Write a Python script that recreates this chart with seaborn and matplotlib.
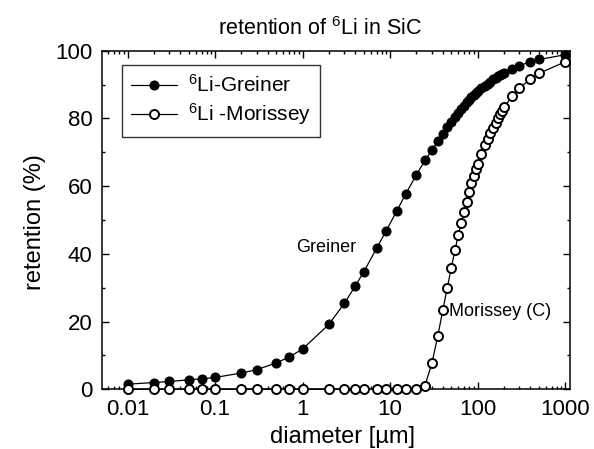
import numpy as np
import pandas as pd
import matplotlib
matplotlib.use("Agg")
import matplotlib.pyplot as plt
import seaborn as sns
from matplotlib.ticker import LogLocator, FuncFormatter, MultipleLocator, NullFormatter

# diameter grid [um] shared by both curves
diameter = [0.01, 0.02, 0.03, 0.05, 0.07, 0.1, 0.2, 0.3, 0.5, 0.7,
            1, 2, 3, 4, 5, 7, 9, 12, 15, 20,
            25, 30, 35, 40, 45, 50, 55, 60, 65, 70,
            75, 80, 85, 90, 95, 100, 110, 120, 130, 140,
            150, 160, 170, 180, 190, 200, 250, 300, 400, 500, 1000]

# retention (%)
greiner = [1.5, 2.0, 2.3, 2.8, 3.1, 3.5, 4.8, 5.8, 7.8, 9.5,
           11.9, 19.2, 25.4, 30.5, 34.7, 41.6, 46.8, 52.8, 57.6, 63.4,
           67.6, 70.6, 73.2, 75.5, 77.4, 79.0, 80.4, 81.7, 82.8, 83.8,
           84.7, 85.5, 86.2, 86.9, 87.5, 88.0, 88.9, 89.6, 90.3, 90.9,
           91.5, 92.0, 92.4, 92.8, 93.1, 93.4, 94.6, 95.5, 96.8, 97.4, 98.8]

morissey = [0, 0, 0, 0, 0, 0, 0, 0, 0, 0,
            0, 0, 0, 0, 0, 0, 0, 0, 0, 0,
            1.1, 7.7, 15.7, 23.4, 30.0, 35.9, 41.0, 45.5, 49.2, 52.5,
            55.4, 58.2, 60.8, 63.0, 65.0, 66.6, 69.5, 72.0, 74.0, 75.7,
            77.3, 78.7, 80.0, 81.2, 82.3, 83.3, 86.7, 88.9, 91.6, 93.3, 96.7]

x_ticks = [0.01, 0.1, 1, 10, 100, 1000]
y_ticks = [0, 20, 40, 60, 80, 100]

df = pd.DataFrame({"diameter": diameter, "greiner": greiner, "morissey": morissey})

sns.set_style("ticks")
plt.rcParams['font.family'] = ['Liberation Sans', 'DejaVu Sans']
plt.rcParams['mathtext.default'] = 'regular'
plt.rcParams['text.color'] = 'black'
plt.rcParams['axes.labelcolor'] = 'black'

fig = plt.figure(figsize=(5.94, 4.49), dpi=100)
ax = fig.add_axes([0.1717, 0.133, 0.7887, 0.7541])

sns.lineplot(data=df, x="diameter", y="greiner", ax=ax, color="black", lw=0.9,
             marker="o", markersize=6.5, markerfacecolor="black", markeredgecolor="black",
             estimator=None, label=r"$^{6}$Li-Greiner", clip_on=False, zorder=3)
sns.lineplot(data=df, x="diameter", y="morissey", ax=ax, color="black", lw=0.9,
             marker="o", markersize=6.5, markerfacecolor="white", markeredgecolor="black",
             markeredgewidth=1.4, estimator=None, label=r"$^{6}$Li -Morissey",
             clip_on=False, zorder=4)

ax.set_xscale("log")
ax.set_xlim(0.0051, 1150)
ax.set_ylim(0, 100)
ax.set_xticks(x_ticks)
ax.xaxis.set_major_formatter(FuncFormatter(lambda v, p: f"{v:g}"))
ax.xaxis.set_minor_locator(LogLocator(base=10, subs=np.arange(2, 10), numticks=20))
ax.xaxis.set_minor_formatter(NullFormatter())
ax.set_yticks(y_ticks)
ax.yaxis.set_minor_locator(MultipleLocator(10))

ax.tick_params(which="both", direction="in", top=True, right=True, width=1,
               colors="black", labelcolor="black")
ax.tick_params(which="major", length=5, labelsize=16, pad=7)
ax.tick_params(which="minor", length=2.5)
for s in ax.spines.values():
    s.set_linewidth(1.1)
    s.set_color("black")

ax.set_xlabel("diameter [µm]", fontsize=17)
ax.set_ylabel("retention (%)", fontsize=17)
ax.xaxis.set_label_coords(0.514, -0.141)
ax.xaxis.label.set_va("center")
ax.yaxis.set_label_coords(-0.143, 0.494)
ax.yaxis.label.set_va("center")

fig.text(320 / 594, 1 - 35 / 449, r"retention of $^{6}$Li in SiC", fontsize=15.5,
         ha="center", va="baseline")

ax.text(1.88, 42, "Greiner", fontsize=13, ha="center", va="center")
ax.text(47.1, 23.1, "Morissey (C)", fontsize=13, ha="left", va="center")

leg = ax.legend(loc="upper left", bbox_to_anchor=(0.0427, 0.958), borderaxespad=0,
                fontsize=15, frameon=True, fancybox=False, handlelength=2.2,
                handletextpad=0.5, borderpad=0.45, labelspacing=0.25)
leg.get_frame().set_edgecolor("black")
leg.get_frame().set_linewidth(1.0)

fig.savefig("out.png", dpi=100)
